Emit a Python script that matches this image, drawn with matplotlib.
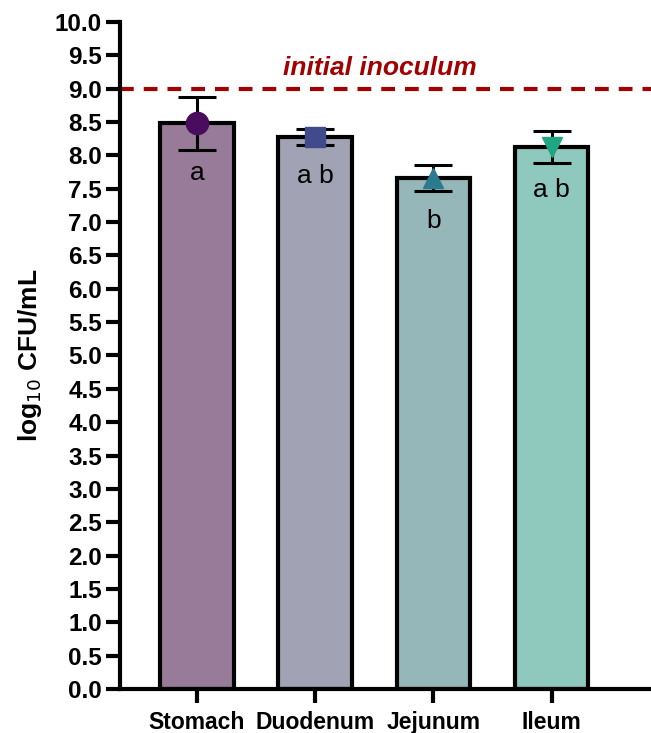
import matplotlib.pyplot as plt

# data
sites = ['Stomach', 'Duodenum', 'Jejunum', 'Ileum']
means = [8.48, 8.28, 7.66, 8.13]
errors = [0.40, 0.12, 0.20, 0.24]
letters = ['a', 'a b', 'b', 'a b']
letter_y = [7.74, 7.69, 7.02, 7.48]
inoculum = 9.0
yticks = [i * 0.5 for i in range(21)]

bar_colors = ['#977b98', '#a1a2b4', '#95b7ba', '#8fc8bd']
marker_colors = ['#4a0c5c', '#414a8b', '#2b7a8e', '#21a683']
marker_shapes = ['o', 's', '^', 'v']

plt.rcParams['font.family'] = ['Liberation Sans', 'DejaVu Sans']

fig = plt.figure(figsize=(6.51, 7.33), dpi=100)
ax = fig.add_axes([120 / 651, 44 / 733, 1 - 120 / 651, 667 / 733])

x = list(range(len(sites)))
ax.bar(x, means, width=0.62, color=bar_colors, edgecolor='black', linewidth=3, zorder=2)
ax.errorbar(x, means, yerr=errors, fmt='none', ecolor='black', elinewidth=2.2,
            capsize=14, capthick=2.2, zorder=3)
for i in x:
    ax.plot(i, means[i], marker=marker_shapes[i], color=marker_colors[i],
            markersize=16 if marker_shapes[i] == 'o' else 15, zorder=4, linestyle='none')
    ax.text(i, letter_y[i], letters[i], ha='center', va='center', fontsize=19)

# initial inoculum reference line
ax.axhline(inoculum, color='#a30000', linestyle=(0, (3.3, 2.4)), linewidth=3, zorder=1)
ax.text(1.55, 9.31, 'initial inoculum', color='#a30000', fontsize=19,
        fontweight='bold', fontstyle='italic', ha='center', va='center')

ax.set_xlim(-0.65, 3.84)
ax.set_ylim(0, 10)
ax.set_yticks(yticks)
ax.set_yticklabels([f'{t:.1f}' for t in yticks], fontsize=17.5, fontweight='bold')
ax.set_xticks(x)
ax.set_xticklabels(sites, fontsize=16.5, fontweight='bold')
ax.set_ylabel(r'log$_{10}$ CFU/mL', fontsize=19, fontweight='bold', labelpad=8)

for side in ['top', 'right']:
    ax.spines[side].set_visible(False)
for side in ['left', 'bottom']:
    ax.spines[side].set_linewidth(3)
ax.tick_params(axis='both', width=3, length=10, pad=3)
ax.tick_params(axis='x', pad=6)

fig.savefig('out.png', dpi=100)
